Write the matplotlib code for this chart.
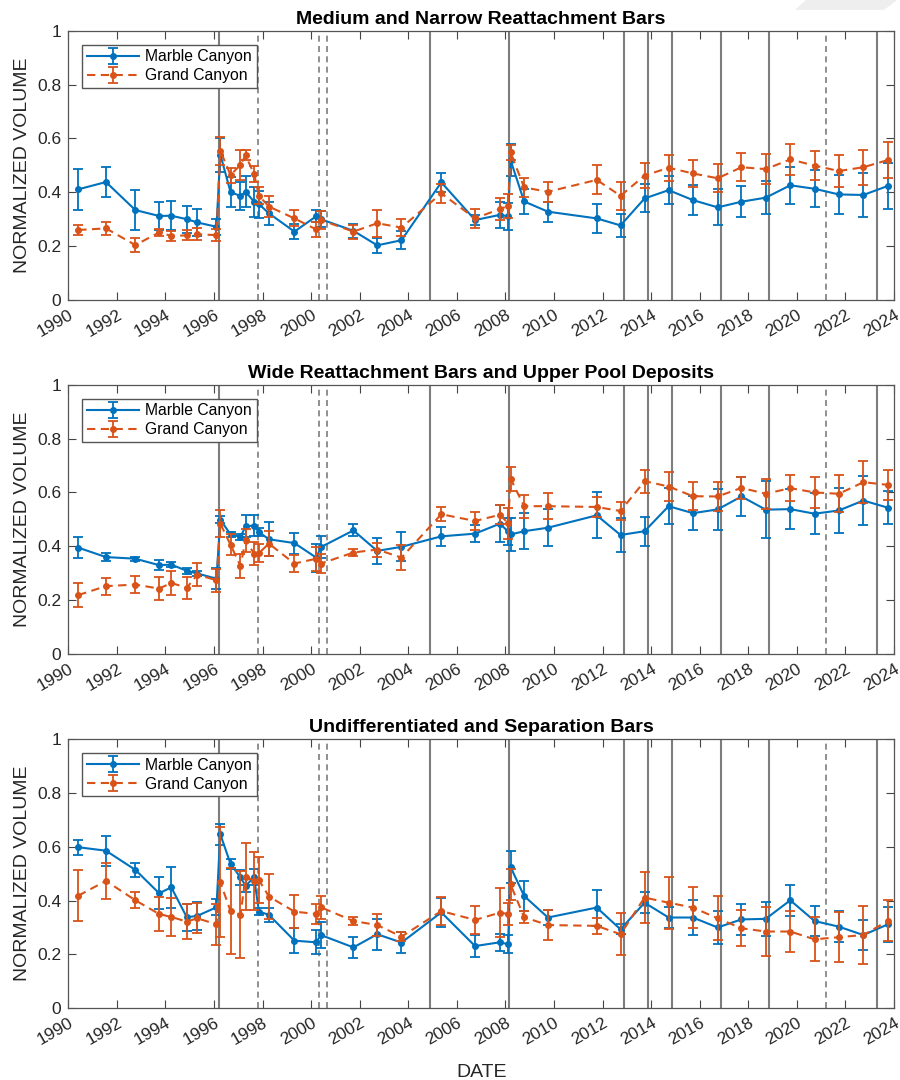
"""
Normalized sandbar volume through time, Marble Canyon vs Grand Canyon,
for three bar types. Vertical lines mark high-flow releases.
"""

import matplotlib

matplotlib.use("Agg")  # no display
import matplotlib.pyplot as plt
from matplotlib.patches import Polygon

plt.rcParams["font.family"] = ["Liberation Sans", "DejaVu Sans"]

BLUE = "#0072BD"
ORANGE = "#D95319"
EVENT_GRAY = "#7d7d7d"
TEXT = "#262626"

# --------------------------------------------------------------------------- #
# Survey dates (decimal years) and event dates
# --------------------------------------------------------------------------- #
dates = [
    1990.41, 1991.55, 1992.76, 1993.74, 1994.24, 1994.88, 1995.31, 1996.10,
    1996.26, 1996.68, 1997.09, 1997.30, 1997.65, 1997.85, 1998.26, 1999.31,
    2000.21, 2000.40, 2001.74, 2002.72, 2003.72, 2005.36, 2006.75, 2007.77,
    2008.11, 2008.21, 2008.77, 2009.75, 2011.76, 2012.74, 2013.73, 2014.72,
    2015.72, 2016.74, 2017.72, 2018.72, 2019.73, 2020.73, 2021.73, 2022.74,
    2023.76,
]

# high flows drawn as solid lines, the rest dashed
events_solid = [1996.21, 2004.88, 2008.16, 2012.88, 2013.88, 2014.87,
                2016.86, 2018.85, 2023.30]
events_dashed = [1997.82, 2000.32, 2000.67, 2021.22]

year_ticks = list(range(1990, 2025, 2))
vol_ticks = [0, 0.2, 0.4, 0.6, 0.8, 1]
vol_tick_labels = ["0", "0.2", "0.4", "0.6", "0.8", "1"]

titles = [
    "Medium and Narrow Reattachment Bars",
    "Wide Reattachment Bars and Upper Pool Deposits",
    "Undifferentiated and Separation Bars",
]

# --------------------------------------------------------------------------- #
# Medium / narrow reattachment bars
# --------------------------------------------------------------------------- #
mc_narrow = [
    0.411, 0.438, 0.334, 0.312, 0.313, 0.300, 0.288, 0.272, 0.540, 0.401,
    0.386, 0.402, 0.365, 0.356, 0.322, 0.254, 0.311, 0.300, 0.257, 0.203,
    0.222, 0.437, 0.297, 0.316, 0.311, 0.520, 0.366, 0.328, 0.303, 0.277,
    0.377, 0.408, 0.371, 0.344, 0.365, 0.380, 0.426, 0.413, 0.392, 0.390,
    0.424,
]
mc_narrow_err = [
    0.075, 0.057, 0.073, 0.052, 0.054, 0.050, 0.050, 0.030, 0.063, 0.055,
    0.053, 0.058, 0.056, 0.050, 0.042, 0.027, 0.022, 0.030, 0.025, 0.028,
    0.033, 0.036, 0.019, 0.049, 0.050, 0.058, 0.046, 0.037, 0.053, 0.043,
    0.052, 0.053, 0.057, 0.067, 0.058, 0.061, 0.069, 0.069, 0.072, 0.083,
    0.086,
]
gc_narrow = [
    0.260, 0.266, 0.204, 0.251, 0.238, 0.240, 0.244, 0.241, 0.554, 0.464,
    0.502, 0.537, 0.468, 0.387, 0.347, 0.303, 0.262, 0.297, 0.254, 0.285,
    0.269, 0.396, 0.303, 0.338, 0.349, 0.548, 0.418, 0.402, 0.446, 0.387,
    0.462, 0.491, 0.470, 0.452, 0.493, 0.486, 0.522, 0.499, 0.479, 0.493,
    0.520,
]
gc_narrow_err = [
    0.020, 0.023, 0.025, 0.012, 0.019, 0.019, 0.022, 0.023, 0.052, 0.028,
    0.055, 0.019, 0.030, 0.032, 0.038, 0.030, 0.028, 0.035, 0.026, 0.050,
    0.033, 0.036, 0.036, 0.041, 0.043, 0.028, 0.034, 0.038, 0.054, 0.052,
    0.045, 0.048, 0.049, 0.052, 0.052, 0.056, 0.056, 0.054, 0.059, 0.065,
    0.066,
]

# --------------------------------------------------------------------------- #
# Wide reattachment bars / upper pool deposits
# --------------------------------------------------------------------------- #
mc_wide = [
    0.395, 0.360, 0.354, 0.330, 0.332, 0.309, 0.299, 0.280, 0.499, 0.444,
    0.435, 0.474, 0.477, 0.453, 0.426, 0.412, 0.358, 0.397, 0.459, 0.383,
    0.398, 0.437, 0.447, 0.484, 0.455, 0.444, 0.456, 0.469, 0.515, 0.442,
    0.456, 0.549, 0.523, 0.537, 0.585, 0.536, 0.538, 0.521, 0.533, 0.570,
    0.543,
]
mc_wide_err = [
    0.038, 0.015, 0.007, 0.019, 0.008, 0.010, 0.008, 0.039, 0.014, 0.008,
    0.010, 0.041, 0.038, 0.014, 0.063, 0.039, 0.052, 0.041, 0.022, 0.049,
    0.054, 0.035, 0.031, 0.068, 0.050, 0.060, 0.066, 0.069, 0.086, 0.063,
    0.054, 0.068, 0.063, 0.077, 0.071, 0.105, 0.073, 0.077, 0.085, 0.091,
    0.062,
]
gc_wide = [
    0.219, 0.252, 0.258, 0.243, 0.264, 0.246, 0.295, 0.274, 0.484, 0.406,
    0.327, 0.422, 0.373, 0.375, 0.410, 0.336, 0.354, 0.336, 0.377, 0.388,
    0.358, 0.519, 0.494, 0.517, 0.486, 0.651, 0.549, 0.549, 0.546, 0.531,
    0.642, 0.622, 0.586, 0.585, 0.617, 0.595, 0.616, 0.600, 0.595, 0.638,
    0.628,
]
gc_wide_err = [
    0.044, 0.031, 0.031, 0.044, 0.043, 0.040, 0.044, 0.043, 0.051, 0.040,
    0.043, 0.043, 0.044, 0.035, 0.045, 0.033, 0.044, 0.034, 0.014, 0.026,
    0.046, 0.026, 0.033, 0.035, 0.058, 0.045, 0.043, 0.048, 0.036, 0.034,
    0.043, 0.054, 0.052, 0.054, 0.042, 0.055, 0.048, 0.057, 0.069, 0.078,
    0.057,
]

# --------------------------------------------------------------------------- #
# Undifferentiated / separation bars
# --------------------------------------------------------------------------- #
mc_sep = [
    0.598, 0.585, 0.514, 0.427, 0.449, 0.338, 0.343, 0.375, 0.646, 0.536,
    0.486, 0.455, 0.486, 0.359, 0.347, 0.251, 0.245, 0.272, 0.226, 0.275,
    0.244, 0.356, 0.231, 0.245, 0.238, 0.525, 0.417, 0.337, 0.374, 0.293,
    0.392, 0.337, 0.337, 0.300, 0.330, 0.332, 0.401, 0.324, 0.303, 0.272,
    0.312,
]
mc_sep_err = [
    0.028, 0.056, 0.025, 0.059, 0.076, 0.050, 0.053, 0.030, 0.039, 0.020,
    0.028, 0.025, 0.030, 0.012, 0.025, 0.046, 0.045, 0.048, 0.040, 0.058,
    0.038, 0.053, 0.041, 0.032, 0.034, 0.058, 0.054, 0.027, 0.067, 0.019,
    0.038, 0.040, 0.065, 0.063, 0.057, 0.063, 0.058, 0.054, 0.057, 0.054,
    0.065,
]
gc_sep = [
    0.418, 0.473, 0.401, 0.350, 0.339, 0.322, 0.334, 0.312, 0.468, 0.361,
    0.347, 0.489, 0.474, 0.476, 0.415, 0.359, 0.350, 0.375, 0.324, 0.309,
    0.266, 0.361, 0.328, 0.355, 0.350, 0.460, 0.338, 0.309, 0.306, 0.275,
    0.411, 0.392, 0.374, 0.334, 0.297, 0.285, 0.285, 0.256, 0.264, 0.272,
    0.325,
]
gc_sep_err = [
    0.095, 0.066, 0.029, 0.064, 0.071, 0.064, 0.056, 0.076, 0.204, 0.159,
    0.162, 0.125, 0.108, 0.084, 0.083, 0.060, 0.037, 0.043, 0.016, 0.040,
    0.018, 0.052, 0.051, 0.091, 0.040, 0.058, 0.022, 0.056, 0.031, 0.079,
    0.096, 0.097, 0.075, 0.082, 0.067, 0.090, 0.075, 0.082, 0.093, 0.108,
    0.077,
]


def draw_panel(ax, title, mc, mc_err, gc, gc_err):
    for x in events_solid:
        ax.axvline(x, color=EVENT_GRAY, lw=1.5, zorder=1)
    for x in events_dashed:
        ax.axvline(x, color=EVENT_GRAY, lw=1.2, ls=(0, (3.6, 2.6)), zorder=1)

    ax.errorbar(dates, mc, yerr=mc_err, color=BLUE, lw=1.5, marker="o",
                ms=4, capsize=3.6, capthick=1.3, elinewidth=1.3,
                label="Marble Canyon", zorder=3)
    ax.errorbar(dates, gc, yerr=gc_err, color=ORANGE, lw=1.5,
                ls=(0, (4, 2.6)), marker="o", ms=4, capsize=3.6,
                capthick=1.3, elinewidth=1.3, label="Grand Canyon", zorder=4)

    ax.set_xlim(1990, 2024)
    ax.set_ylim(0, 1)
    ax.set_xticks(year_ticks)
    ax.set_xticklabels([str(y) for y in year_ticks], rotation=30,
                       ha="right", va="top", rotation_mode="anchor")
    ax.set_yticks(vol_ticks)
    ax.set_yticklabels(vol_tick_labels)
    ax.tick_params(direction="in", top=True, right=True, length=5.5,
                   width=0.8, color="#444444", labelcolor=TEXT,
                   labelsize=12.5)
    ax.tick_params(axis="x", pad=5)
    ax.tick_params(axis="y", pad=5)
    for s in ax.spines.values():
        s.set_color("#555555")
        s.set_linewidth(0.9)

    ax.set_title(title, fontsize=14, fontweight="bold", pad=5, color="black")
    ax.set_ylabel("NORMALIZED VOLUME", fontsize=14, color=TEXT)
    ax.yaxis.set_label_coords(-0.045, 0.5)

    ax.legend(loc="upper left", bbox_to_anchor=(0.017, 0.948),
              borderaxespad=0, fontsize=11.3, frameon=True, fancybox=False,
              edgecolor="#555555", framealpha=1, handlelength=3.3,
              handletextpad=0.4, borderpad=0.3, labelspacing=0.25)


def main():
    fig = plt.figure(figsize=(9, 10.8), dpi=100)

    bottoms = [0.7222, 0.3944, 0.0664]
    series = [
        (mc_narrow, mc_narrow_err, gc_narrow, gc_narrow_err),
        (mc_wide, mc_wide_err, gc_wide, gc_wide_err),
        (mc_sep, mc_sep_err, gc_sep, gc_sep_err),
    ]
    axes = []
    for b, title, (mc, mce, gc, gce) in zip(bottoms, titles, series):
        ax = fig.add_axes([0.0759, b, 0.9174, 0.2494])
        draw_panel(ax, title, mc, mce, gc, gce)
        axes.append(ax)

    axes[-1].set_xlabel("DATE", fontsize=14, color=TEXT, labelpad=12)

    # light gray tab at the top right corner
    fig.patches.append(Polygon(
        [(795 / 900, 1 - 10 / 1080), (884 / 900, 1 - 10 / 1080),
         (897 / 900, 1.0), (806 / 900, 1.0)],
        closed=True, transform=fig.transFigure, facecolor="#eeeeee",
        edgecolor="none"))

    fig.savefig("out.png", dpi=100)
    plt.close(fig)


if __name__ == "__main__":
    main()
